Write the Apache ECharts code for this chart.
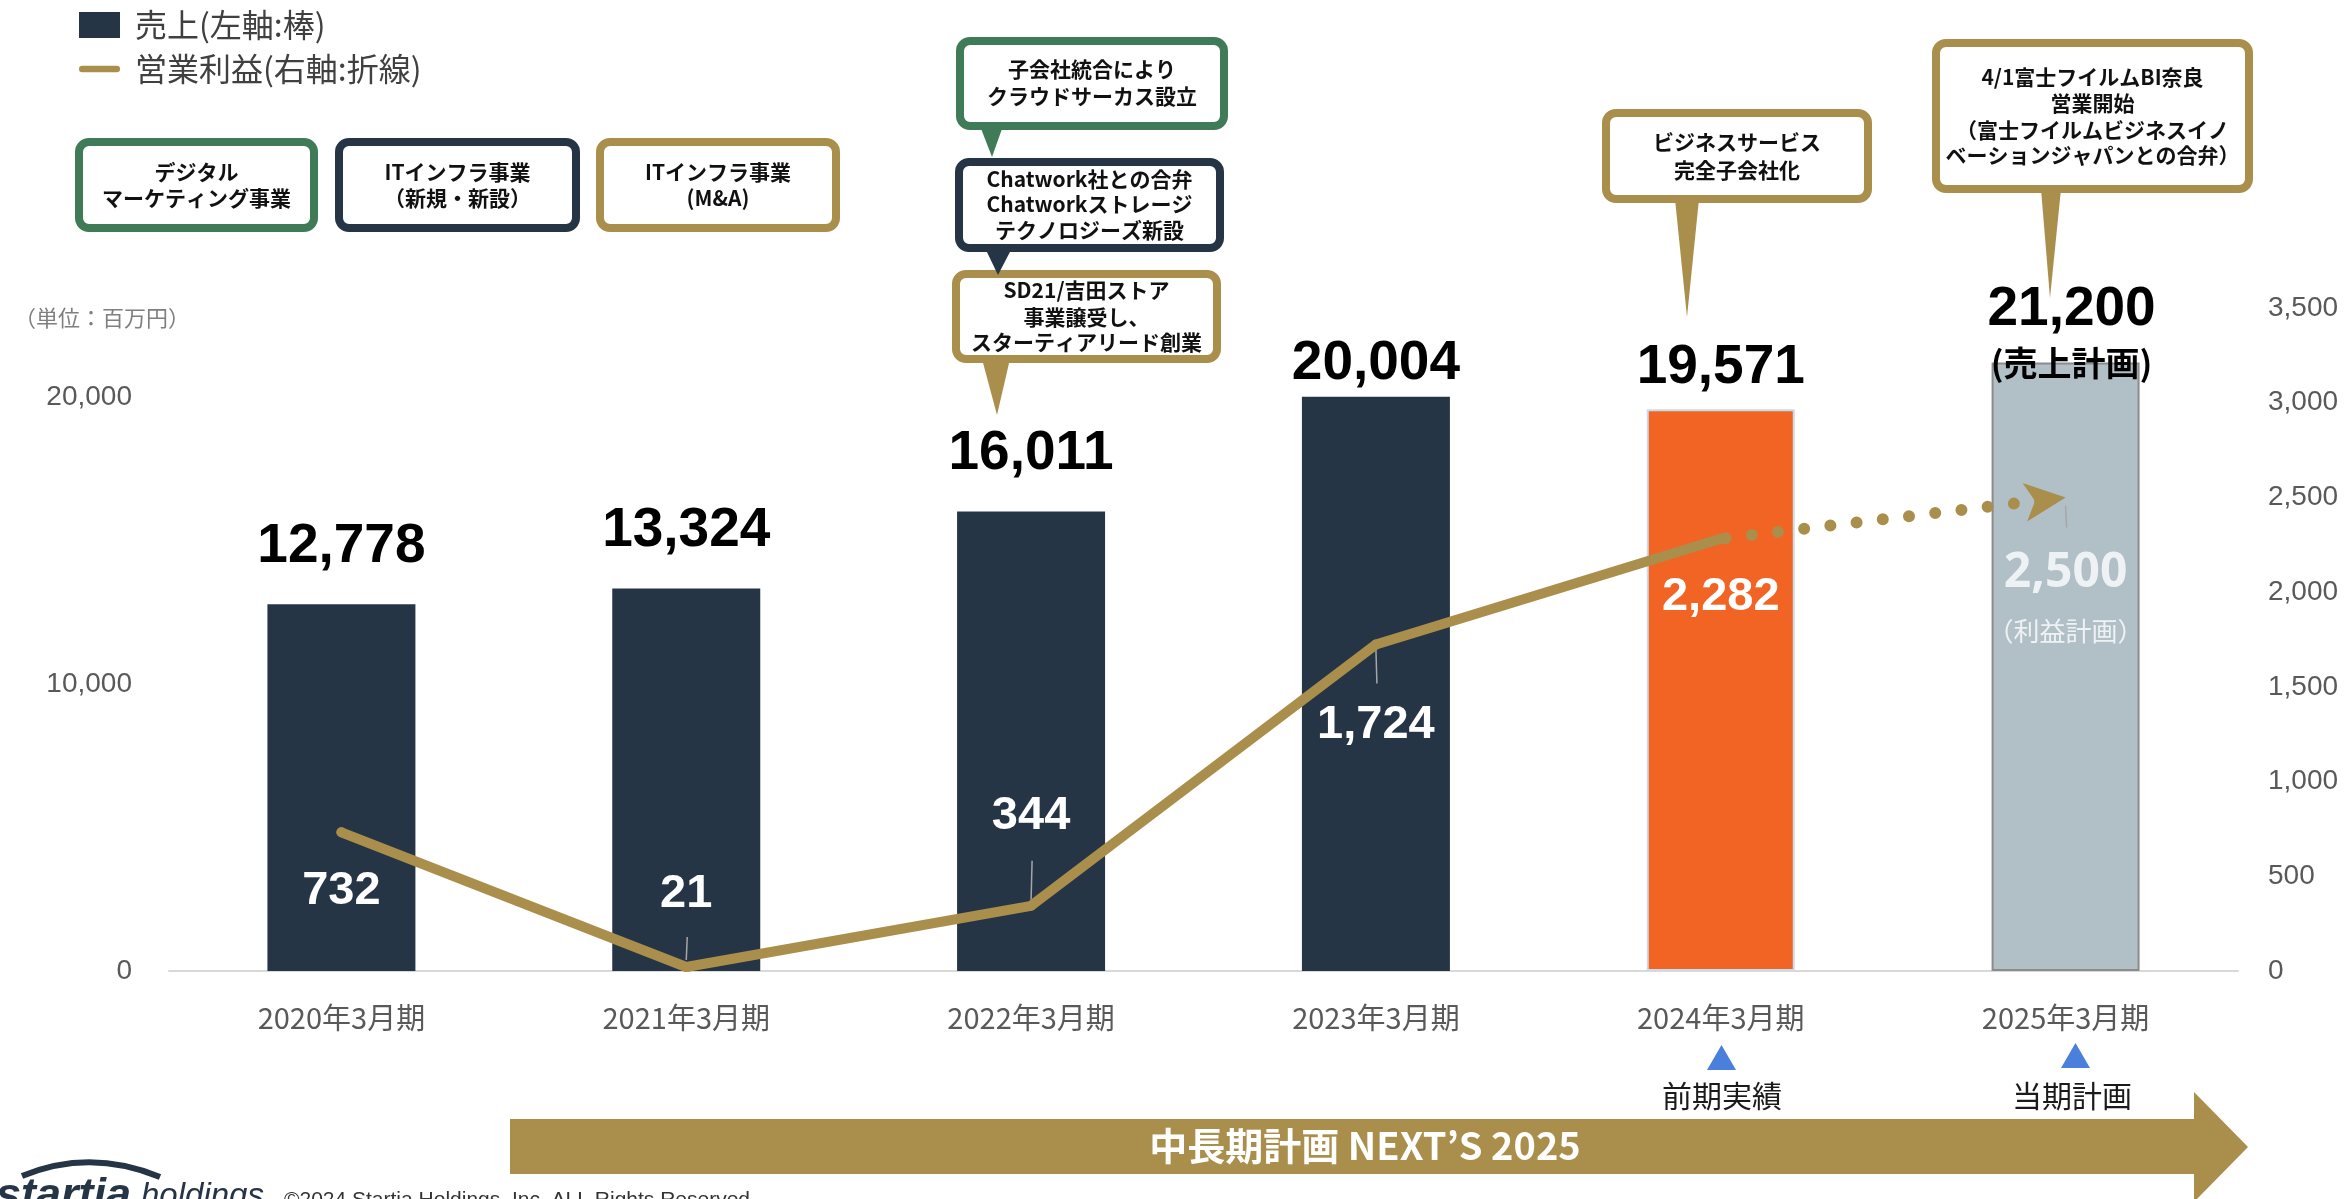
<!DOCTYPE html>
<html>
<head>
<meta charset="utf-8">
<script src="https://cdn.jsdelivr.net/npm/echarts@6/dist/echarts.min.js"></script>
<style>
html,body{margin:0;padding:0;background:#fff;}
#c{width:2344px;height:1199px;}
</style>
</head>
<body>
<div id="c"></div>
<script>
// ---------- data ----------
const categories = ['2020年3月期', '2021年3月期', '2022年3月期', '2023年3月期', '2024年3月期', '2025年3月期'];
const sales = [12778, 13324, 16011, 20004, 19571, 21200];
const opProfit = [732, 21, 344, 1724, 2282];
const opProfitPlan = [2500];
const leftAxisTicks = [0, 10000, 20000];
const rightAxisTicks = [0, 500, 1000, 1500, 2000, 2500, 3000, 3500];

// ---------- styles ----------
const NAVY = '#253546', ORANGE = '#F26424', PLANBAR = '#B1BFC7', GOLD = '#AA8E4B', GREEN = '#3F7B56';
const NUM = "'Liberation Sans', Arial, sans-serif";
const JP = "'Noto Sans CJK JP', 'Noto Sans', sans-serif";
const fmt = v => Number(v).toLocaleString('en-US');

const barItemStyles = [
  {color: NAVY}, {color: NAVY}, {color: NAVY}, {color: NAVY},
  {color: ORANGE, borderColor: '#C9DCEA', borderWidth: 2},
  {color: PLANBAR, borderColor: '#8C8C8C', borderWidth: 2}
];
const barLabelDist = [30, 30, 30, 6, 14, 0];
const lineLabelPos = ['bottom', 'top', 'top', 'bottom', 'bottom'];
const lineLabelDist = [30, 44, 61, 52, 30];
// leader-line pixel offsets (from the point) for selected labels
const leaderStyle = {
  1: [-7, -30], 2: [-6, -45], 3: [5, 39], plan: [8, 30]
};

const chart = echarts.init(document.getElementById('c'), null, {renderer: 'canvas'});

// ---------- graphic annotations ----------
const annotations = [
  {box: [75, 138, 318, 232], color: GREEN, lines: ['デジタル', 'マーケティング事業'], ys: [172, 198]},
  {box: [335, 138, 580, 232], color: NAVY, lines: ['ITインフラ事業', '（新規・新設）'], ys: [172, 198]},
  {box: [596, 138, 840, 232], color: GOLD, lines: ['ITインフラ事業', '(M&A)'], ys: [172, 198]},
  {box: [956, 37, 1228, 130], color: GREEN, ptr: [980, 1003, 992, 157], lines: ['子会社統合により', 'クラウドサーカス設立'], ys: [69, 96]},
  {box: [955, 158, 1224, 252], color: NAVY, ptr: [985, 1012, 998, 275], lines: ['Chatwork社との合弁', 'Chatworkストレージ', 'テクノロジーズ新設'], ys: [179, 204, 230]},
  {box: [952, 270, 1221, 363], color: GOLD, ptr: [982, 1010, 997, 415], lines: ['SD21/吉田ストア', '事業譲受し、', 'スターティアリード創業'], ys: [290, 317, 342]},
  {box: [1602, 109, 1872, 203], color: GOLD, ptr: [1675, 1699, 1687, 317], lines: ['ビジネスサービス', '完全子会社化'], ys: [142, 170]},
  {box: [1932, 39, 2253, 193], color: GOLD, ptr: [2041, 2061, 2050, 298], lines: ['4/1富士フイルムBI奈良', '営業開始', '（富士フイルムビジネスイノ', 'ベーションジャパンとの合弁）'], ys: [77, 103, 130, 155]}
];

const graphics = [];
annotations.forEach(a => {
  const [x0, y0, x1, y1] = a.box;
  graphics.push({type: 'rect', z: 100, shape: {x: x0 + 4, y: y0 + 4, width: x1 - x0 - 8, height: y1 - y0 - 8, r: 10},
    style: {fill: '#fff', stroke: a.color, lineWidth: 8}});
  if (a.ptr) {
    graphics.push({type: 'polygon', z: 101, shape: {points: [[a.ptr[0], y1 - 4], [a.ptr[1], y1 - 4], [a.ptr[2], a.ptr[3]]]},
      style: {fill: a.color}});
  }
  a.lines.forEach((t, i) => {
    graphics.push({type: 'text', z: 102, style: {text: t, x: (x0 + x1) / 2, y: a.ys[i], fill: '#111',
      font: "bold 21px 'Noto Sans CJK JP'", align: 'center', verticalAlign: 'middle', textAlign: 'center', textVerticalAlign: 'middle'}});
  });
});

// unit label
graphics.push({type: 'text', z: 50, style: {text: '（単位：百万円）', x: 14, y: 318, fill: '#7F7F7F',
  font: "22px 'Noto Sans CJK JP'", align: 'left', verticalAlign: 'middle', textAlign: 'left', textVerticalAlign: 'middle'}});

// markers under x axis
graphics.push({type: 'polygon', z: 50, shape: {points: [[1707, 1070], [1736, 1070], [1721.5, 1045]]}, style: {fill: '#4A7FDB'}});
graphics.push({type: 'polygon', z: 50, shape: {points: [[2061, 1068], [2090, 1068], [2075.5, 1043]]}, style: {fill: '#4A7FDB'}});
graphics.push({type: 'text', z: 50, style: {text: '前期実績', x: 1722, y: 1096, fill: '#1a1a1a', font: "30px 'Noto Sans CJK JP'",
  align: 'center', verticalAlign: 'middle', textAlign: 'center', textVerticalAlign: 'middle'}});
graphics.push({type: 'text', z: 50, style: {text: '当期計画', x: 2072, y: 1096, fill: '#1a1a1a', font: "30px 'Noto Sans CJK JP'",
  align: 'center', verticalAlign: 'middle', textAlign: 'center', textVerticalAlign: 'middle'}});

// big arrow
graphics.push({type: 'polygon', z: 40, shape: {points: [[510, 1119], [2194, 1119], [2194, 1092], [2248, 1147], [2194, 1202], [2194, 1174], [510, 1174]]},
  style: {fill: GOLD}});
graphics.push({type: 'text', z: 41, style: {text: '中長期計画 NEXT’S 2025', x: 1365, y: 1146, fill: '#fff',
  font: "bold 38px 'Noto Sans CJK JP'", align: 'center', verticalAlign: 'middle', textAlign: 'center', textVerticalAlign: 'middle'}});

// logo + copyright
graphics.push({type: 'bezierCurve', z: 40, shape: {x1: 22, y1: 1176, x2: 160, y2: 1177, cpx1: 90, cpy1: 1148},
  style: {stroke: NAVY, lineWidth: 6, fill: null}});
graphics.push({type: 'text', z: 40, style: {text: 'startia', x: -4, y: 1197, fill: NAVY, font: "italic bold 45px 'Liberation Sans'",
  align: 'left', verticalAlign: 'middle', textAlign: 'left', textVerticalAlign: 'middle'}});
graphics.push({type: 'text', z: 40, style: {text: 'holdings', x: 141, y: 1197, fill: NAVY, font: "italic 33px 'Liberation Sans'",
  align: 'left', verticalAlign: 'middle', textAlign: 'left', textVerticalAlign: 'middle'}});
graphics.push({type: 'text', z: 40, style: {text: '©2024 Startia Holdings, Inc. ALL Rights Reserved.', x: 284, y: 1200, fill: '#333',
  font: "21px 'Liberation Sans'", align: 'left', verticalAlign: 'middle', textAlign: 'left', textVerticalAlign: 'middle'}});

// leader line data: [category, value, key]
const leaderData = [1, 2, 3].map(i => [categories[i], opProfit[i], i])
  .concat([[categories[5], opProfitPlan[0], 'plan']]);

// ---------- option ----------
const option = {
  animation: false,
  backgroundColor: '#fff',
  textStyle: {fontFamily: JP},
  grid: {left: 169, right: 106, top: 308, bottom: 228},
  legend: {
    left: 79, top: 9, padding: 0, orient: 'vertical', itemGap: 12, itemWidth: 41, itemHeight: 26, selectedMode: false,
    textStyle: {fontFamily: JP, fontSize: 32, color: '#404040', lineHeight: 32, padding: [0, 0, 0, 10]},
    data: [
      {name: '売上(左軸:棒)', icon: 'rect'},
      {name: '営業利益(右軸:折線)', icon: 'path://M3.5,0H40.5A3.5,3.5,0,0,1,40.5,7H3.5A3.5,3.5,0,0,1,3.5,0Z'}
    ]
  },
  xAxis: {
    type: 'category', data: categories,
    axisLine: {show: true, lineStyle: {color: '#D9D9D9', width: 2}},
    axisTick: {show: false},
    axisLabel: {fontSize: 29, color: '#595959', margin: 32, fontFamily: JP}
  },
  yAxis: [
    {
      type: 'value', min: leftAxisTicks[0], max: 23100, interval: leftAxisTicks[1] - leftAxisTicks[0],
      axisLine: {show: false}, axisTick: {show: false}, splitLine: {show: false},
      axisLabel: {formatter: v => fmt(v), showMaxLabel: false, fontSize: 28, color: '#595959', margin: 37, fontFamily: NUM}
    },
    {
      type: 'value', min: rightAxisTicks[0], max: rightAxisTicks[rightAxisTicks.length - 1],
      interval: rightAxisTicks[1] - rightAxisTicks[0],
      axisLine: {show: false}, axisTick: {show: false}, splitLine: {show: false},
      axisLabel: {formatter: v => fmt(v), fontSize: 28, color: '#595959', margin: 30, fontFamily: NUM}
    }
  ],
  series: [
    {
      type: 'bar', name: '売上(左軸:棒)', yAxisIndex: 0, barWidth: 148, z: 2,
      itemStyle: {color: NAVY},
      label: {show: true, position: 'top', color: '#000', fontFamily: NUM, fontWeight: 'bold', fontSize: 55, formatter: p => fmt(p.value)},
      data: sales.map((v, i) => {
        const item = {value: v, itemStyle: barItemStyles[i], label: {distance: barLabelDist[i]}};
        if (i === sales.length - 1) {
          item.label = {
            distance: 0, offset: [6, 26],
            formatter: p => `{a|${fmt(p.value)}}\n{b|(売上計画)}`,
            rich: {
              a: {fontSize: 55, fontWeight: 'bold', fontFamily: NUM, lineHeight: 58, color: '#000'},
              b: {fontSize: 34, fontWeight: 'bold', fontFamily: JP, lineHeight: 50, color: '#000'}
            }
          };
        }
        return item;
      })
    },
    {
      type: 'custom', name: 'leaders', yAxisIndex: 1, z: 4, silent: true,
      renderItem: (params, api) => {
        const p = api.coord([api.value(0), api.value(1)]);
        const d = leaderData[params.dataIndex];
        const off = leaderStyle[d[2]];
        return {type: 'line', shape: {x1: p[0], y1: p[1] + off[0], x2: p[0] + 1, y2: p[1] + off[1]},
          style: {stroke: '#A6A6A6', lineWidth: 1.5}};
      },
      encode: {x: 0, y: 1},
      data: leaderData.map(d => [d[0], d[1]])
    },
    {
      type: 'line', name: '営業利益(右軸:折線)', yAxisIndex: 1, z: 5,
      symbol: 'circle', symbolSize: 10, showSymbol: true,
      itemStyle: {color: GOLD},
      lineStyle: {color: GOLD, width: 10, cap: 'round', join: 'round'},
      label: {show: true, color: '#fff', fontFamily: NUM, fontWeight: 'bold', fontSize: 47, formatter: p => fmt(p.value)},
      data: opProfit.map((v, i) => ({value: v, label: {position: lineLabelPos[i], distance: lineLabelDist[i]}})),
      markLine: {
        silent: true, animation: false,
        symbol: ['none', 'arrow'],
        label: {show: false},
        emphasis: {disabled: true},
        lineStyle: {color: GOLD, width: 12, type: [0, 26.4], dashOffset: 21.6, cap: 'round', opacity: 1},
        data: [[
          {coord: [categories[4], opProfit[4]], symbol: 'none'},
          {coord: [categories[5], opProfitPlan[0]], symbol: 'arrow', symbolSize: [29, 41]}
        ]]
      }
    },
    {
      type: 'scatter', name: 'plan', yAxisIndex: 1, z: 6, silent: true,
      symbolSize: 1, itemStyle: {color: 'rgba(0,0,0,0)'},
      label: {
        show: true, position: 'bottom', distance: 47,
        formatter: p => `{a|${fmt(p.value[1])}}\n{b|（利益計画）}`,
        rich: {
          a: {fontSize: 48, lineHeight: 56, color: '#FFFFFF', fontFamily: "'Noto Sans', sans-serif", fontWeight: 'bold'},
          b: {fontSize: 26, lineHeight: 60, color: '#FFFFFF', fontFamily: JP}
        }
      },
      data: opProfitPlan.map(v => [categories[5], v])
    }
  ],
  graphic: {elements: graphics}
};
chart.setOption(option);
</script>
</body>
</html>
